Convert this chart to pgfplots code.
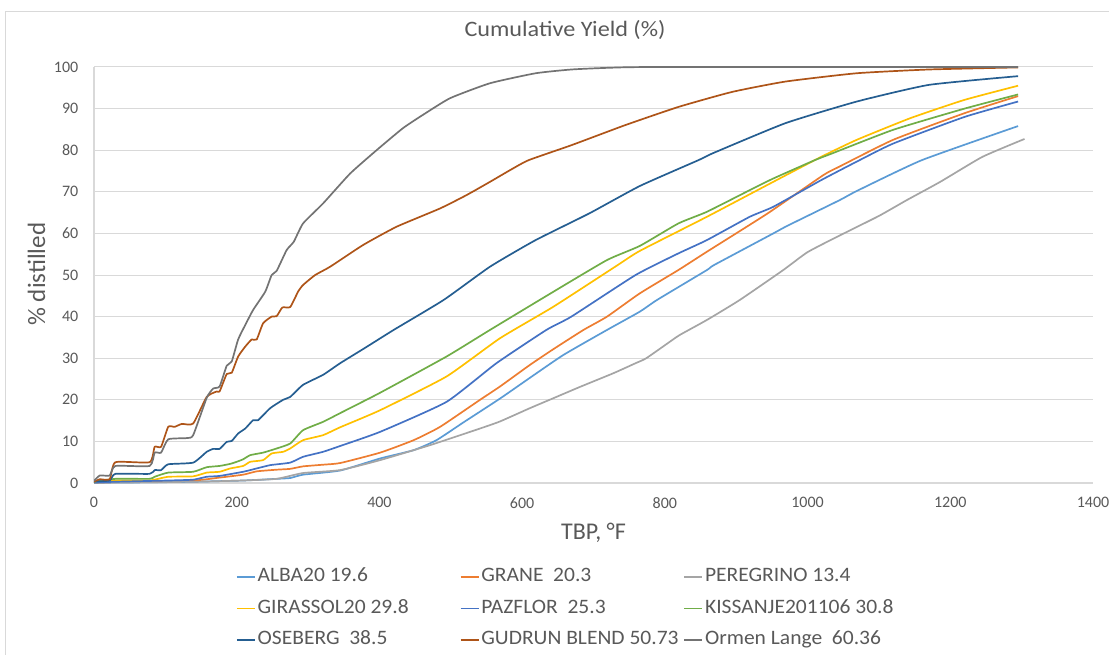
\documentclass[border=0pt]{standalone}
\usepackage{fontspec}
\setmainfont{Carlito}
\newfontfamily\legendfont[FakeStretch=1.05]{Carlito}
\newfontfamily\titlefont[FakeStretch=1.1]{Carlito}
\usepackage{pgfplots}
\usepackage{pgfplotstable}
\pgfplotsset{compat=1.18}

\definecolor{txt}{HTML}{595959}
\definecolor{gridc}{HTML}{D9D9D9}
\definecolor{cAlba}{HTML}{5B9BD5}
\definecolor{cGrane}{HTML}{ED7D31}
\definecolor{cPeregrino}{HTML}{A5A5A5}
\definecolor{cGirassol}{HTML}{FFC000}
\definecolor{cPazflor}{HTML}{4472C4}
\definecolor{cKissanje}{HTML}{70AD47}
\definecolor{cOseberg}{HTML}{255E91}
\definecolor{cGudrun}{HTML}{AE5418}
\definecolor{cOrmen}{HTML}{737373}

% TBP (deg F) versus cumulative % distilled
\pgfplotstableread{
T y
0 0.05
100 0.2
139 0.3
209 0.6
256 1.0
275 1.2
293 2.0
345 3.0
401 5.9
448 7.9
480 10.3
518 14.6
569 20.3
611 25.3
658 30.8
719 36.8
765 41.2
789 44.0
859 51.2
869 52.4
952 60.0
969 61.6
1045 68.0
1069 70.2
1160 77.6
1295 85.8
}\alba

\pgfplotstableread{
T y
0 0.1
30 0.2
139 0.6
176 1.3
209 2.0
228 2.8
256 3.2
275 3.4
293 4.0
321 4.4
345 4.8
401 7.3
448 10.3
485 13.5
541 20.0
569 23.2
611 28.4
644 32.2
686 36.8
719 40.0
765 45.6
819 51.2
859 55.6
944 64.8
1022 74.0
1044 76.0
1120 82.5
1220 88.9
1295 93.0
}\grane

\pgfplotstableread{
T y
0 0.05
139 0.3
209 0.6
256 1.0
293 2.4
345 3.1
401 5.5
471 9.1
541 13.1
569 14.8
611 18.0
644 20.4
681 23.1
728 26.4
759 28.8
774 30.0
809 34.2
821 35.6
859 39.2
905 44.0
966 51.2
1000 55.5
1045 59.5
1100 64.2
1139 68.0
1186 72.4
1245 78.4
1304 82.7
}\peregrino

\pgfplotstableread{
T y
0 0.2
30 0.6
78 0.6
85 0.8
104 1.5
139 1.6
158 2.5
176 2.7
191 3.5
209 4.1
219 5.1
237 5.5
249 7.1
265 7.5
275 8.3
293 10.3
321 11.5
345 13.4
401 17.5
494 25.6
569 34.8
644 42.4
734 52.4
765 55.8
859 64.0
952 72.4
1019 78.4
1069 82.5
1144 87.7
1220 92.1
1295 95.5
}\girassol

\pgfplotstableread{
T y
0 0.1
30 0.3
104 0.6
139 0.8
158 1.5
176 1.7
209 2.7
228 3.5
247 4.3
275 4.9
293 6.3
321 7.5
345 8.9
401 12.3
494 19.5
564 28.8
634 36.8
669 40.0
759 50.0
819 55.2
859 58.4
919 64.0
952 66.4
1019 72.8
1066 77.0
1120 81.6
1220 88.0
1295 91.7
}\pazflor

\pgfplotstableread{
T y
0 0.3
30 1.0
78 1.0
85 1.5
104 2.5
139 2.7
158 3.8
176 4.1
191 4.6
200 5.1
209 5.7
219 6.7
237 7.3
256 8.3
275 9.5
293 12.7
321 14.7
345 16.8
401 21.7
494 30.4
555 36.8
644 46.0
719 53.6
765 57.0
819 62.4
859 65.2
919 70.4
952 73.2
1010 77.6
1034 79.2
1120 84.9
1220 90.0
1295 93.4
}\kissanje

\pgfplotstableread{
T y
0 0.4
22 0.6
30 2.2
78 2.2
85 3.1
94 3.1
104 4.5
139 4.9
158 7.5
167 8.2
176 8.2
186 9.9
193 10.1
202 11.9
212 13.1
223 15.1
230 15.1
247 18.0
265 20.0
275 20.7
293 23.6
321 26.0
345 28.8
380 32.5
420 36.8
490 44.0
555 52.0
619 58.4
694 64.8
765 71.4
847 77.6
869 79.4
969 86.5
1069 91.7
1170 95.7
1295 97.8
}\oseberg

\pgfplotstableread{
T y
0 0.3
8 0.9
22 0.9
30 5.0
78 5.0
85 8.7
94 8.7
104 13.5
113 13.5
123 14.2
139 14.3
158 20.7
172 22.0
176 22.0
186 26.2
193 26.5
202 30.4
212 32.8
221 34.5
228 34.5
237 38.4
249 40.0
256 40.1
264 42.2
275 42.3
286 46.0
293 47.6
310 50.0
331 52.0
377 57.2
424 61.6
485 66.0
522 69.2
555 72.4
583 75.2
609 77.6
669 81.2
744 86.0
819 90.4
894 94.0
969 96.5
1069 98.5
1170 99.4
1295 99.9
}\gudrun

\pgfplotstableread{
T y
0 0.5
8 1.8
22 1.8
30 4.1
78 4.1
85 7.3
94 7.3
104 10.5
130 10.8
139 11.5
158 20.5
167 22.7
176 23.2
186 28.2
193 29.2
202 34.5
212 38.0
223 41.6
240 46.0
249 50.0
256 51.0
270 56.0
280 58.0
293 62.4
321 67.2
359 74.4
396 80.0
433 85.3
461 88.5
499 92.5
555 96.1
619 98.5
669 99.4
720 99.8
789 100
1295 100
}\ormen

\begin{document}
\begin{tikzpicture}[x=1pt,y=1pt]
\useasboundingbox (0,0) rectangle (1109,654);
% chart area frame
\draw[gridc, line width=1pt] (5,-20) -- (5,642) -- (1130,642);
\begin{axis}[
  at={(94pt,171pt)}, anchor=south west,
  scale only axis, width=999pt, height=416pt,
  xmin=0, xmax=1400, ymin=0, ymax=100,
  xtick={0,200,...,1400}, ytick={0,10,...,100},
  axis x line*=bottom, axis y line*=left,
  axis line style={gridc, line width=1.2pt, -},
  ymajorgrids, grid style={gridc, line width=1pt},
  major tick length=0pt,
  /pgf/number format/assume math mode=true,
  /pgf/number format/1000 sep={},
  tick label style={font=\fontsize{16}{19}\selectfont, text=txt},
  yticklabel style={anchor=east, inner sep=0pt, xshift=-15.5pt},
  xticklabel style={anchor=north, inner sep=0pt, yshift=-14pt},
  title={Cumulative Yield (\%)},
  title style={font=\titlefont\fontsize{22}{26}\selectfont, text=txt,
    at={(axis description cs:0.4715,1.060)}, anchor=base, inner sep=0pt},
  xlabel={TBP, °F},
  xlabel style={font=\fontsize{24}{28}\selectfont, text=txt,
    at={(axis description cs:0.5,-0.137)}, anchor=base, inner sep=0pt},
  ylabel={\% distilled},
  ylabel style={font=\fontsize{25}{30}\selectfont, text=txt,
    at={(axis description cs:-0.049,0.502)}, anchor=base, inner sep=0pt},
  every axis plot/.append style={line width=1.7pt, line join=round,
    smooth, tension=0.3, no markers},
  legend columns=3,
  legend cell align=left,
  legend style={at={(axis description cs:0.1421,-0.2019)}, anchor=north west,
    draw=none, fill=none, inner sep=0pt, outer sep=0pt,
    font=\legendfont\fontsize{20.5}{24}\selectfont, text=txt,
    nodes={inner sep=0pt, text height=15pt, text depth=5pt},
    row sep=11.5pt, column sep=0pt},
  legend image code/.code={\draw[#1, line width=1.7pt, sharp plot] (0pt,0pt) -- (18pt,0pt);},
]
\addplot[cAlba] table {\alba};
\addlegendentry{\makebox[204pt][l]{\hspace{2pt}ALBA20 19.6}}
\addplot[cGrane] table {\grane};
\addlegendentry{\makebox[204pt][l]{\hspace{2pt}GRANE~~20.3}}
\addplot[cPeregrino] table {\peregrino};
\addlegendentry{\makebox[204pt][l]{\hspace{2pt}PEREGRINO 13.4}}
\addplot[cGirassol] table {\girassol};
\addlegendentry{\makebox[204pt][l]{\hspace{2pt}GIRASSOL20 29.8}}
\addplot[cPazflor] table {\pazflor};
\addlegendentry{\makebox[204pt][l]{\hspace{2pt}PAZFLOR~~25.3}}
\addplot[cKissanje] table {\kissanje};
\addlegendentry{\makebox[204pt][l]{\hspace{2pt}KISSANJE201106 30.8}}
\addplot[cOseberg] table {\oseberg};
\addlegendentry{\makebox[204pt][l]{\hspace{2pt}OSEBERG~~38.5}}
\addplot[cGudrun] table {\gudrun};
\addlegendentry{\makebox[204pt][l]{\hspace{2pt}GUDRUN BLEND 50.73}}
\addplot[cOrmen] table {\ormen};
\addlegendentry{\makebox[204pt][l]{\hspace{2pt}Ormen Lange~~60.36}}
\end{axis}
\end{tikzpicture}
\end{document}
